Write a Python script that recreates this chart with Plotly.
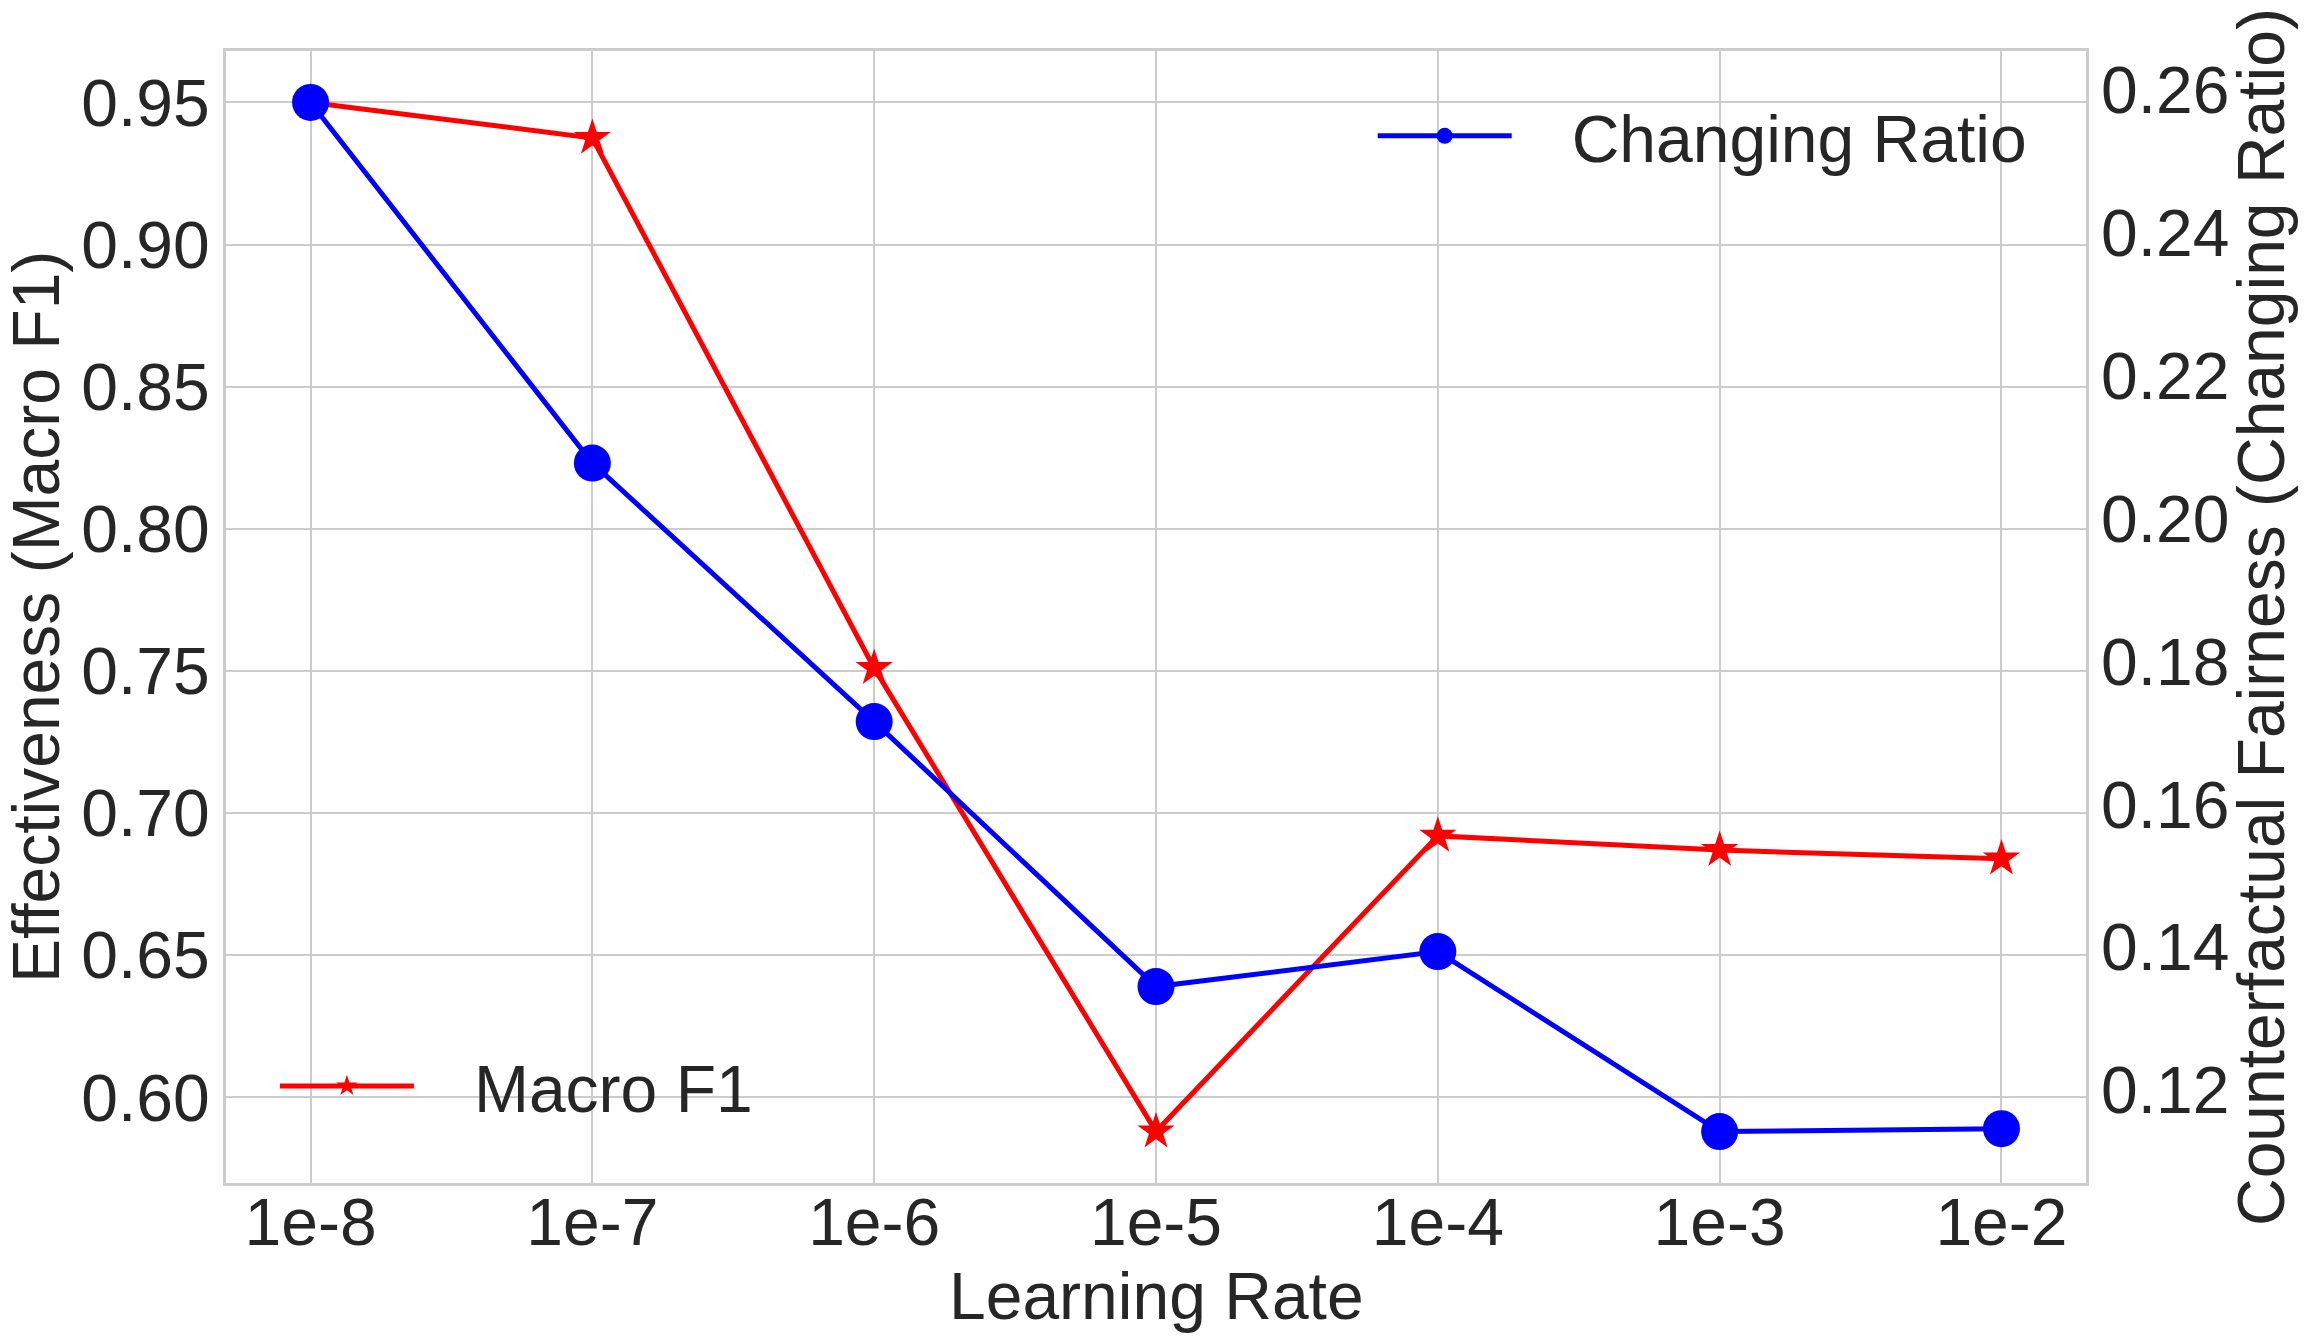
import plotly.graph_objects as go

# learning-rate sweep
learning_rates = ["1e-8", "1e-7", "1e-6", "1e-5", "1e-4", "1e-3", "1e-2"]
macro_f1 = [0.950, 0.9375, 0.751, 0.588, 0.692, 0.687, 0.684]
changing_ratio = [0.2583, 0.2078, 0.1716, 0.1345, 0.1394, 0.1142, 0.1146]

FONT = "Liberation Sans"
TEXT = "#262626"
GRID = "#cccccc"
SIZE = 66
GAP = "\u00a0" * 3  # room between legend sample and label


def _padded(values, pad=0.05):
    lo, hi = min(values), max(values)
    span = hi - lo
    return [lo - pad * span, hi + pad * span]


fig = go.Figure()
fig.add_trace(
    go.Scatter(
        x=learning_rates,
        y=macro_f1,
        name=GAP + "Macro F1",
        mode="lines+markers",
        line=dict(color="red", width=5),
        marker=dict(symbol="star", size=28, color="red"),
        yaxis="y",
        legend="legend2",
    )
)
fig.add_trace(
    go.Scatter(
        x=learning_rates,
        y=changing_ratio,
        name=GAP + "Changing Ratio",
        mode="lines+markers",
        line=dict(color="blue", width=5),
        marker=dict(symbol="circle", size=37, color="blue"),
        yaxis="y2",
        legend="legend",
    )
)

axis_font = dict(family=FONT, size=SIZE, color=TEXT)
frame = dict(
    showline=True,
    mirror=True,
    linecolor=GRID,
    linewidth=3,
    showgrid=True,
    gridcolor=GRID,
    gridwidth=2,
    ticks="",
    tickfont=axis_font,
    automargin=False,
)

# the page body has an 8px margin, so the figure is 16px smaller than the window
fig.update_layout(
    width=2296,
    height=1326,
    margin=dict(l=218, r=218, t=43, b=151),
    paper_bgcolor="white",
    plot_bgcolor="white",
    font=axis_font,
    showlegend=True,
    xaxis=dict(type="category", range=[-0.3, 6.3], ticklabelstandoff=-20, **frame),
    yaxis=dict(
        range=_padded(macro_f1),
        dtick=0.05,
        tick0=0.6,
        tickformat=".2f",
        zeroline=False,
        ticklabelstandoff=0,
        **frame,
    ),
    yaxis2=dict(
        overlaying="y",
        side="right",
        range=_padded(changing_ratio),
        dtick=0.02,
        tick0=0.12,
        tickformat=".2f",
        tickfont=axis_font,
        showgrid=False,
        zeroline=False,
        showline=False,
        ticks="",
        ticklabelstandoff=14,
        automargin=False,
    ),
    legend=dict(
        x=0.6165,
        y=0.925,
        xanchor="left",
        yanchor="middle",
        font=axis_font,
        bgcolor="rgba(0,0,0,0)",
        itemwidth=134,
    ),
    legend2=dict(
        x=0.0263,
        y=0.0857,
        xanchor="left",
        yanchor="middle",
        font=axis_font,
        bgcolor="rgba(0,0,0,0)",
        itemwidth=134,
    ),
)

# axis titles
fig.add_annotation(
    text="Learning Rate", x=0.5, y=0, xref="paper", yref="paper",
    xanchor="center", yanchor="middle", yshift=-113, showarrow=False, font=axis_font,
)
fig.add_annotation(
    text="Effectiveness (Macro F1)", x=0, y=0.5, xref="paper", yref="paper",
    xanchor="center", yanchor="middle", xshift=-190, textangle=-90,
    showarrow=False, font=axis_font,
)
fig.add_annotation(
    text="Counterfactual Fairness (Changing Ratio)", x=1, y=0.5, xref="paper", yref="paper",
    xanchor="center", yanchor="middle", xshift=175, textangle=-90,
    showarrow=False, font=axis_font,
)

fig.write_html("out.html")
